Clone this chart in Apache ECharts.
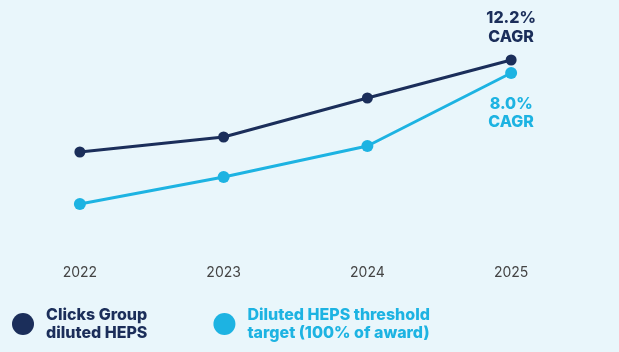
<!DOCTYPE html>
<html>
<head>
<meta charset="utf-8">
<script src="https://cdn.jsdelivr.net/npm/echarts@6/dist/echarts.min.js"></script>
<style>
  html, body { margin: 0; padding: 0; background: #e9f6fb; }
  #chart { width: 619px; height: 352px; }
</style>
</head>
<body>
<div id="chart"></div>
<script>
const years = ["2022", "2023", "2024", "2025"]
// indexed values (no y axis shown)
const dilutedHeps = [106, 121, 160, 198]
const thresholdTarget = [54, 81, 112, 185]
const cagrLabels = ["12.2%\nCAGR", "8.0%\nCAGR"]
const seriesNames = ["Clicks Group\ndiluted HEPS", "Diluted HEPS threshold\ntarget (100% of award)"]

const dark = "#1b2e5a"
const light = "#1db3e2"

let myChart = echarts.init(document.getElementById("chart"))
myChart.setOption({
  backgroundColor: "#e9f6fb",
  animation: false,
  grid: { left: 8, right: 36, top: 40, bottom: 94 },
  legend: {
    left: 7,
    top: 301,
    icon: "circle",
    itemWidth: 22,
    itemHeight: 22,
    itemGap: 66,
    textStyle: {
      fontFamily: "Inter",
      fontWeight: 800,
      fontSize: 16,
      lineHeight: 18,
      padding: [0, 0, 0, 7],
    },
    data: [
      { name: seriesNames[0], textStyle: { color: dark } },
      { name: seriesNames[1], textStyle: { color: light } },
    ],
  },
  xAxis: {
    type: "category",
    data: years,
    axisLine: { show: false },
    axisTick: { show: false },
    axisLabel: { color: "#444", fontSize: 14, fontFamily: "Inter", margin: 8 },
  },
  yAxis: {
    type: "value",
    min: 0,
    max: 218,
    show: false,
    splitLine: { show: false },
  },
  series: [
    {
      name: seriesNames[0],
      type: "line",
      data: dilutedHeps.map((v, i) => i === 3 ? {
        value: v,
        label: {
          show: true, position: "top", distance: 8,
          formatter: cagrLabels[0], color: dark,
          fontFamily: "Inter", fontWeight: 800, fontSize: 16, lineHeight: 19,
        },
      } : v),
      symbol: "circle",
      symbolSize: 11,
      lineStyle: { color: dark, width: 3 },
      itemStyle: { color: dark },
    },
    {
      name: seriesNames[1],
      type: "line",
      data: thresholdTarget.map((v, i) => i === 3 ? {
        value: v,
        label: {
          show: true, position: "bottom", distance: 16,
          formatter: cagrLabels[1], color: light,
          fontFamily: "Inter", fontWeight: 800, fontSize: 16, lineHeight: 18,
        },
      } : v),
      symbol: "circle",
      symbolSize: 12,
      lineStyle: { color: light, width: 3 },
      itemStyle: { color: light },
    },
  ],
})
</script>
</body>
</html>
